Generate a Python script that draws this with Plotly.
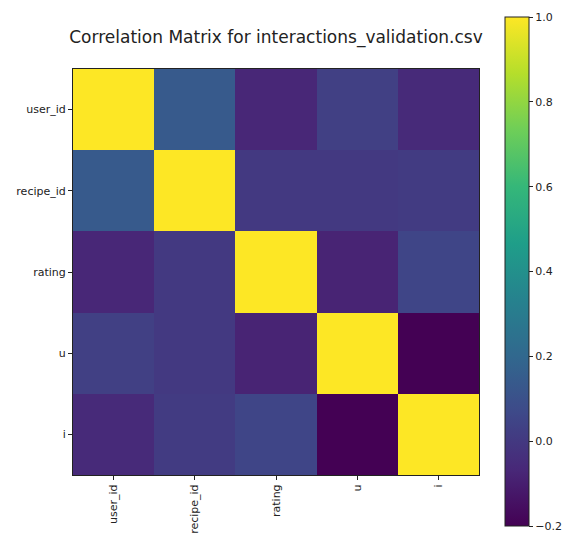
import plotly.graph_objects as go

labels = ["user_id", "recipe_id", "rating", "u", "i"]
row_user_id = [1.0, 0.14, -0.07, 0.03, -0.06]
row_recipe_id = [0.14, 1.0, 0.0, 0.0, 0.01]
row_rating = [-0.07, 0.0, 1.0, -0.08, 0.05]
row_u = [0.03, 0.0, -0.08, 1.0, -0.2]
row_i = [-0.06, 0.01, 0.05, -0.2, 1.0]
cbar_ticks = [-0.2, 0.0, 0.2, 0.4, 0.6, 0.8, 1.0]
cbar_text = ["\u22120.2", "0.0", "0.2", "0.4", "0.6", "0.8", "1.0"]

z = [row_user_id, row_recipe_id, row_rating, row_u, row_i]
zmin = min(min(r) for r in z)
zmax = max(max(r) for r in z)

W, H = 566, 536
L, R, T, B = 73, 479, 69, 475
PW, PH = R - L, B - T
font = dict(family="DejaVu Sans", size=11, color="#222222")

fig = go.Figure(go.Heatmap(
    z=z, x=list(range(5)), y=list(range(5)),
    colorscale="Viridis", zmin=zmin - 1e-6, zmax=zmax,
    colorbar=dict(
        xref="paper", yref="paper",
        x=(505 - L) / PW, xanchor="left", y=(B - 17) / PH, yanchor="top",
        lenmode="pixels", len=509, thicknessmode="pixels", thickness=24,
        outlinewidth=1, outlinecolor="#222222",
        tickvals=cbar_ticks, ticktext=cbar_text,
        ticks="outside", ticklen=4, tickcolor="#222222",
        tickfont=font, xpad=0, ypad=0,
    ),
))

fig.update_layout(
    width=W, height=H,
    margin=dict(l=L, r=W - R, t=T, b=H - B, autoexpand=False),
    paper_bgcolor="white", plot_bgcolor="white",
    font=font,
    title=dict(text="Correlation Matrix for interactions_validation.csv",
               x=276 / W, xanchor="center", xref="container",
               y=1 - 37 / H, yanchor="middle", yref="container",
               font=dict(family="DejaVu Sans", size=17, color="#222222")),
)
fig.update_xaxes(
    tickvals=list(range(5)), ticktext=labels, tickangle=-90,
    range=[-0.5, 4.5], showgrid=False, zeroline=False,
    ticks="outside", ticklen=4, tickcolor="#222222",
    showline=True, linecolor="#222222", linewidth=1, mirror=True,
    automargin=False,
)
fig.update_yaxes(
    tickvals=list(range(5)), ticktext=labels,
    range=[4.5, -0.5], showgrid=False, zeroline=False,
    ticks="outside", ticklen=4, tickcolor="#222222",
    showline=True, linecolor="#222222", linewidth=1, mirror=True,
    automargin=False,
)

fig.write_html("out.html")
